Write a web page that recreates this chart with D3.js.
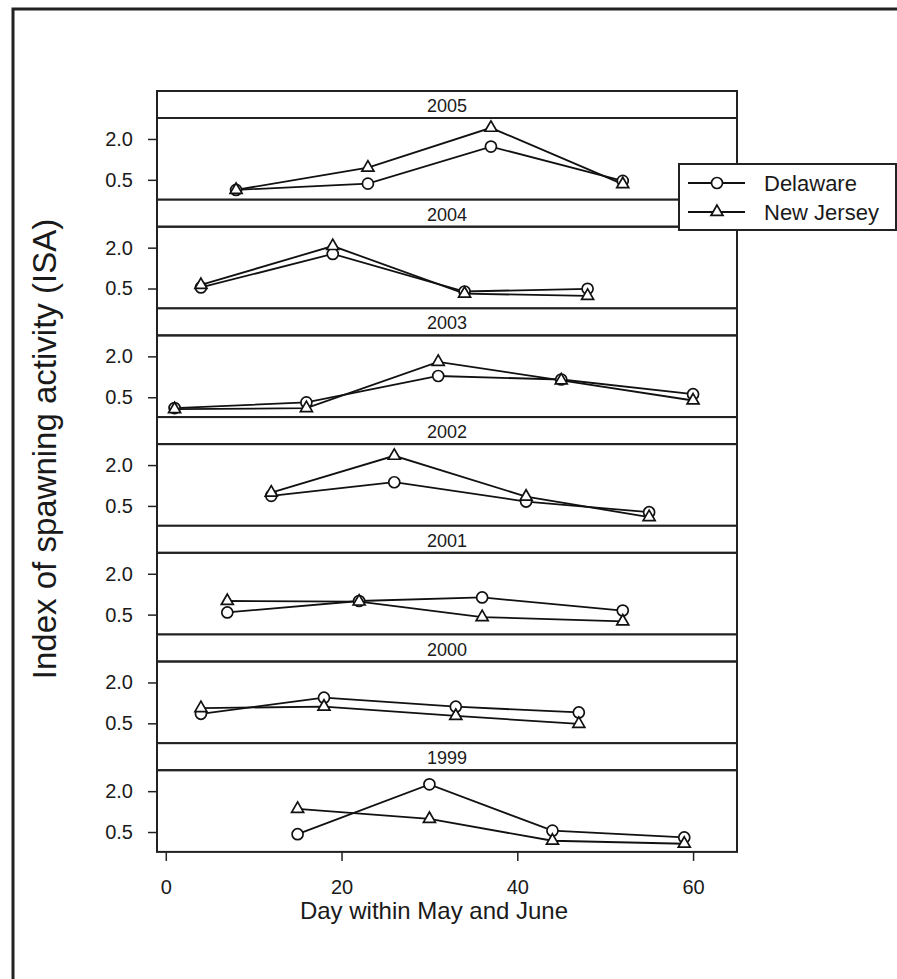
<!DOCTYPE html>
<html>
<head>
<meta charset="utf-8">
<title>Index of spawning activity</title>
<script src="https://d3js.org/d3.v7.min.js"></script>
<style>
    body { margin: 0; background: #fff; overflow: hidden; }
    text { font-family: "Liberation Sans", Arial, sans-serif; fill: #1a1a1a; }
    .frame { fill: none; stroke: #222; stroke-width: 3px; }
    .panel { fill: none; stroke: #222; stroke-width: 2px; }
    .strip { fill: #fff; stroke: #222; stroke-width: 2px; }
    .series { fill: none; stroke: #111; stroke-width: 1.8px; }
    .marker { fill: #fff; stroke: #111; stroke-width: 1.7px; }
    .axis path { display: none; }
    .axis line { stroke: #222; stroke-width: 1.5px; }
    .axis text { font-size: 20px; }
</style>
</head>
<body>
<script>
// panels, top to bottom
var years = [2005, 2004, 2003, 2002, 2001, 2000, 1999];

// sampling days (day within May and June) for each year
var days = [
    [8, 23, 37, 52],
    [4, 19, 34, 48],
    [1, 16, 31, 45, 60],
    [12, 26, 41, 55],
    [7, 22, 36, 52],
    [4, 18, 33, 47],
    [15, 30, 44, 59]
];

// ISA, Delaware
var delaware = [
    [0.13, 0.36, 1.72, 0.46],
    [0.54, 1.77, 0.39, 0.49],
    [0.10, 0.31, 1.28, 1.15, 0.61],
    [0.87, 1.37, 0.66, 0.27],
    [0.58, 1.00, 1.13, 0.65],
    [0.85, 1.44, 1.11, 0.90],
    [0.42, 2.25, 0.55, 0.30]
];

// ISA, New Jersey
var newJersey = [
    [0.13, 0.95, 2.41, 0.34],
    [0.63, 2.06, 0.31, 0.23],
    [0.06, 0.10, 1.80, 1.12, 0.38],
    [0.99, 2.34, 0.84, 0.09],
    [1.00, 0.98, 0.41, 0.25],
    [1.06, 1.11, 0.77, 0.48],
    [1.35, 0.98, 0.18, 0.07]
];

var xTicks = [0, 20, 40, 60];
var yTicks = [0.5, 2.0];
var seriesNames = ["Delaware", "New Jersey"];

var width = 897, height = 979;
var left = 157, right = 737;
var top0 = 91, unit = 108.7, stripH = 27, panelH = 81.7;

var svg = d3.select("body").append("svg")
    .attr("width", width)
    .attr("height", height);

svg.append("rect")
    .attr("class", "frame")
    .attr("x", 13).attr("y", 9)
    .attr("width", 960).attr("height", 1060);

var x = d3.scaleLinear().domain([-1, 65]).range([left, right]);

var line = d3.line();

function triangle(cx, cy) {
    var s = 12, h = s * Math.sqrt(3) / 2;
    return "M" + cx + "," + (cy - 2 * h / 3) +
        "L" + (cx + s / 2) + "," + (cy + h / 3) +
        "L" + (cx - s / 2) + "," + (cy + h / 3) + "Z";
}

years.forEach(function(year, i) {
    var stripTop = top0 + i * unit;
    var pTop = stripTop + stripH;
    var pBottom = pTop + panelH;

    var y = d3.scaleLinear().domain([-0.23, 2.77]).range([pBottom, pTop]);

    var g = svg.append("g");

    // strip
    g.append("rect").attr("class", "strip")
        .attr("x", left).attr("y", stripTop)
        .attr("width", right - left).attr("height", stripH);
    g.append("text")
        .attr("x", (left + right) / 2)
        .attr("y", stripTop + 21)
        .attr("text-anchor", "middle")
        .style("font-size", "18px")
        .text(year);

    // panel box
    g.append("rect").attr("class", "panel")
        .attr("x", left).attr("y", pTop)
        .attr("width", right - left).attr("height", panelH);

    // y axis
    g.append("g").attr("class", "axis")
        .attr("transform", "translate(" + left + ",0)")
        .call(d3.axisLeft(y).tickValues(yTicks).tickSize(9).tickPadding(15)
            .tickFormat(d3.format(".1f")));

    var del = days[i].map(function(d, j) { return [x(d), y(delaware[i][j])]; });
    var nj = days[i].map(function(d, j) { return [x(d), y(newJersey[i][j])]; });

    g.append("path").attr("class", "series").attr("d", line(del));
    g.append("path").attr("class", "series").attr("d", line(nj));

    g.selectAll(".circ").data(del).enter().append("circle")
        .attr("class", "marker")
        .attr("cx", function(d) { return d[0]; })
        .attr("cy", function(d) { return d[1]; })
        .attr("r", 5.5);

    g.selectAll(".tri").data(nj).enter().append("path")
        .attr("class", "marker")
        .attr("d", function(d) { return triangle(d[0], d[1]); });

    if (i == years.length - 1) {
        g.append("g").attr("class", "axis")
            .attr("transform", "translate(0," + pBottom + ")")
            .call(d3.axisBottom(x).tickValues(xTicks).tickSize(9).tickPadding(19));
    }
});

// axis titles
svg.append("text")
    .attr("x", (left + right) / 2 - 13)
    .attr("y", 919)
    .attr("text-anchor", "middle")
    .style("font-size", "24px")
    .text("Day within May and June");

svg.append("text")
    .attr("transform", "translate(56,449) rotate(-90)")
    .attr("text-anchor", "middle")
    .style("font-size", "33px")
    .text("Index of spawning activity (ISA)");

// legend
var legend = svg.append("g");
legend.append("rect")
    .attr("x", 679).attr("y", 164)
    .attr("width", 217).attr("height", 66)
    .style("fill", "#fff").style("stroke", "#222").style("stroke-width", "2px");

seriesNames.forEach(function(name, k) {
    var ly = 183 + k * 29;
    legend.append("line")
        .attr("x1", 688).attr("x2", 745)
        .attr("y1", ly).attr("y2", ly)
        .style("stroke", "#111").style("stroke-width", "1.8px");
    if (k == 0) {
        legend.append("circle").attr("class", "marker")
            .attr("cx", 717).attr("cy", ly).attr("r", 5.5);
    } else {
        legend.append("path").attr("class", "marker")
            .attr("d", triangle(717, ly));
    }
    legend.append("text")
        .attr("x", 764).attr("y", ly + 8)
        .style("font-size", "22px")
        .text(name);
});
</script>
</body>
</html>
